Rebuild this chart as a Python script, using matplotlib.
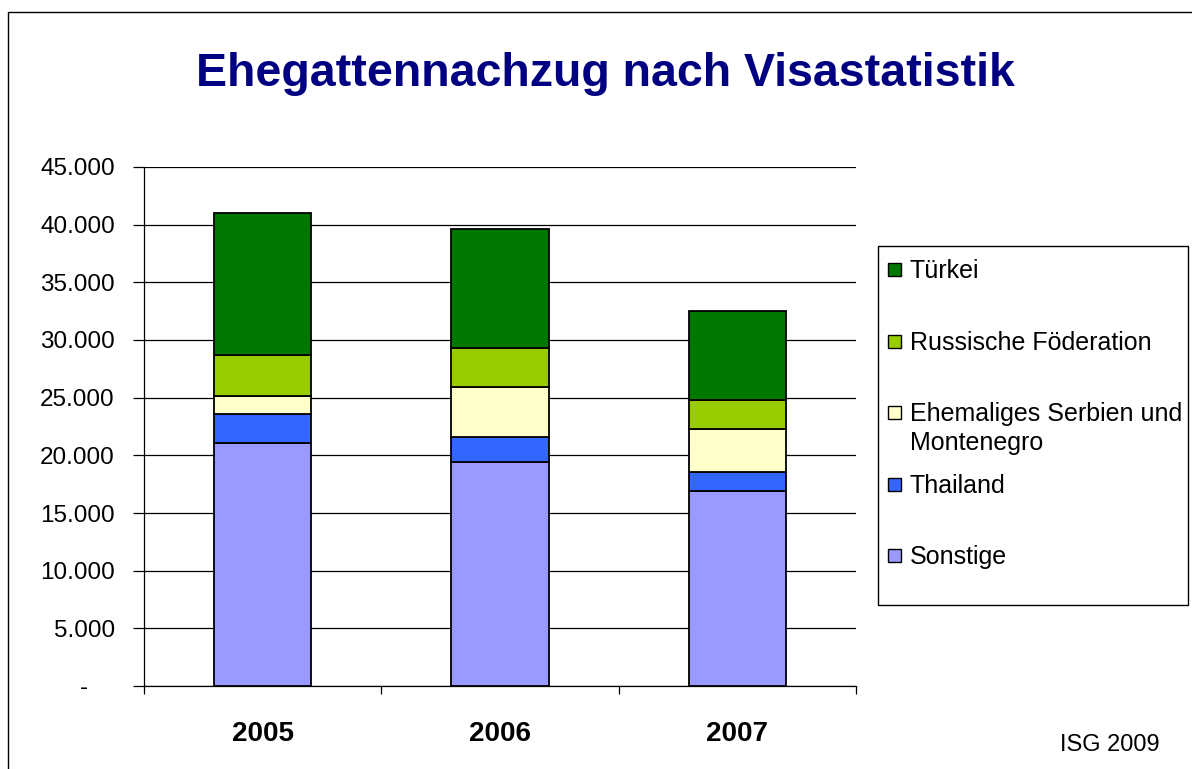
import matplotlib
matplotlib.use("Agg")
import matplotlib.pyplot as plt
from matplotlib.patches import Rectangle
import numpy as np

plt.rcParams['font.family'] = ['Liberation Sans', 'DejaVu Sans']

years = ["2005", "2006", "2007"]
series = ["Sonstige", "Thailand", "Ehemaliges Serbien und\nMontenegro",
          "Russische Föderation", "Türkei"]
sonstige = [21070, 19420, 16910]
thailand = [2515, 2200, 1675]
serbien = [1560, 4335, 3700]
russland = [3530, 3380, 2545]
tuerkei = [12310, 10260, 7690]
values = [sonstige, thailand, serbien, russland, tuerkei]
colors = ["#9999FF", "#3366FF", "#FFFFCC", "#99CC00", "#007800"]
yticks = [0, 5000, 10000, 15000, 20000, 25000, 30000, 35000, 40000, 45000]
ytick_labels = ["-    ", "5.000", "10.000", "15.000", "20.000", "25.000",
                "30.000", "35.000", "40.000", "45.000"]

W, H = 1192, 769
fig = plt.figure(figsize=(W / 100, H / 100), dpi=100)

def fx(x):
    return x / W

def fy(y):
    return 1 - y / H

# outer frame
fig.add_artist(Rectangle((fx(8), fy(790)), fx(1200) - fx(8), fy(12) - fy(790),
                         transform=fig.transFigure, fill=False,
                         edgecolor="black", linewidth=1.0, clip_on=False))

ax = fig.add_axes([fx(144), fy(686), fx(856) - fx(144), fy(167) - fy(686)])
x = np.arange(len(years))
bottom = np.zeros(len(years))
for vals, col in zip(values, colors):
    ax.bar(x, vals, width=0.41, bottom=bottom, color=col, edgecolor="black",
           linewidth=1.3, zorder=3)
    bottom += np.array(vals)

ax.set_xlim(-0.5, 2.5)
ax.set_ylim(0, 45000)
ax.set_yticks(yticks)
ax.set_yticklabels(ytick_labels, fontsize=17.5)
ax.yaxis.grid(True, color="black", linewidth=0.9, zorder=0)
ax.set_axisbelow(True)
ax.tick_params(axis="y", length=8, width=0.9, pad=13)
ax.set_xticks(x)
ax.set_xticklabels(years, fontsize=20, fontweight="bold")
ax.set_xticks([-0.5, 0.5, 1.5, 2.5], minor=True)
ax.tick_params(axis="x", which="major", length=0, pad=25)
ax.tick_params(axis="x", which="minor", length=6, width=0.9)
for s in ["top", "right"]:
    ax.spines[s].set_visible(False)
for s in ["left", "bottom"]:
    ax.spines[s].set_linewidth(0.9)

# title
fig.text(fx(605), fy(86), "Ehegattennachzug nach Visastatistik", ha="center",
         va="baseline", fontsize=33.5, fontweight="bold", color="#000080")

# legend (manual, top to bottom reversed)
fig.add_artist(Rectangle((fx(878), fy(605)), fx(1188) - fx(878), fy(246) - fy(605),
                         transform=fig.transFigure, facecolor="white",
                         edgecolor="black", linewidth=1.0))
marker_y = [269, 341, 412, 484, 555]
for lab, col, my in zip(series[::-1], colors[::-1], marker_y):
    fig.add_artist(Rectangle((fx(888), fy(my + 6.5)), fx(13), 13 / H,
                             transform=fig.transFigure, facecolor=col,
                             edgecolor="black", linewidth=1.0))
    fig.text(fx(910), fy(my - 10), lab, ha="left", va="top", fontsize=18,
             linespacing=1.25)

fig.text(fx(1160), fy(745), "ISG 2009", ha="right", va="center", fontsize=17)

fig.savefig("out.png", dpi=100)
